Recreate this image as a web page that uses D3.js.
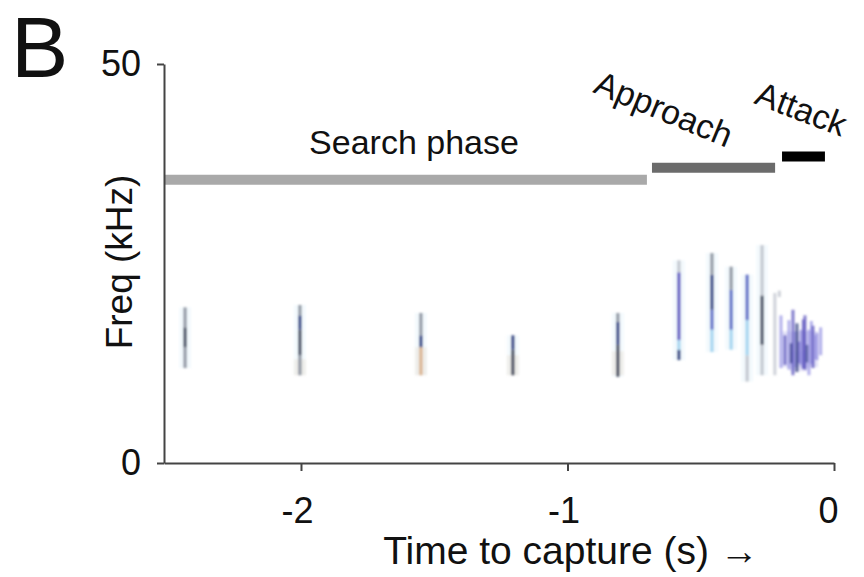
<!DOCTYPE html>
<html>
<head>
<meta charset="utf-8">
<script src="https://cdn.jsdelivr.net/npm/d3@7"></script>
<style>
  html, body { margin: 0; padding: 0; background: #fff; }
  svg { display: block; }
  text { font-family: "Liberation Sans", Arial, sans-serif; fill: #111; }
</style>
</head>
<body>
<svg id="chart" width="864" height="577"></svg>
<script>
// ---------------- DATA ----------------
const timeTicks = [-2, -1, 0];
const freqTicks = [0, 50];
const timeDomain = [-2.514, 0];
const freqDomain = [0, 50];

// behavioural phases (time span in s, level in kHz)
const phaseNames = ["Search phase", "Approach", "Attack"];
const phaseStart = [-2.514, -0.683, -0.195];
const phaseEnd   = [-0.702, -0.221, -0.034];
const phaseLevel = [35.5, 37.0, 38.4];

// echolocation calls: time (s) and spectrogram cells [fLow, fHigh, tone]
const callTime = [-2.435, -2.004, -1.550, -1.205, -0.811, -0.582, -0.458, -0.386, -0.326, -0.270];
const callCells = [
  [[11.9, 14.5, "g1"], [14.5, 17.0, "k"], [17.0, 19.5, "g1"]],
  [[11.0, 13.5, "g1"], [13.5, 16.7, "k"], [16.7, 18.5, "n"], [18.5, 19.8, "g1"]],
  [[11.0, 14.5, "t"], [14.5, 16.0, "n"], [16.0, 18.8, "g1"]],
  [[11.0, 14.2, "k"], [14.2, 16.0, "n"]],
  [[10.8, 14.8, "k"], [14.8, 17.7, "n"], [17.7, 18.8, "g1"]],
  [[12.9, 14.2, "n"], [14.2, 15.4, "c"], [15.4, 23.9, "p"], [23.9, 25.4, "g2"]],
  [[13.9, 16.7, "c"], [16.7, 19.2, "b"], [19.2, 23.6, "n"], [23.6, 26.3, "g1"]],
  [[14.2, 16.7, "c"], [16.7, 21.7, "b"], [21.7, 24.6, "g1"]],
  [[10.2, 13.5, "g2"], [13.5, 17.9, "c"], [17.9, 23.6, "b"]],
  [[11.0, 14.8, "g2"], [14.8, 21.0, "k"], [21.0, 27.3, "g2"]]
];
// faint halos behind the tan lower parts of search calls [time, fLow, fHigh]
const tanHalo = [[-2.004, 11.0, 13.0], [-1.550, 11.0, 14.5], [-1.205, 11.0, 13.5], [-0.811, 11.0, 14.0]];

// terminal buzz pulses: time, fLow, fHigh, tone
const buzzTime = [-0.222, -0.205, -0.199, -0.184, -0.169, -0.160, -0.154, -0.145, -0.139, -0.130, -0.124, -0.115, -0.109, -0.100, -0.094, -0.085, -0.079, -0.070, -0.064, -0.050];
const buzzLow  = [11.0, 20.8, 11.9, 12.3, 11.7, 12.5, 11.0, 12.0, 11.4, 12.5, 12.3, 11.8, 11.7, 12.6, 11.0, 12.4, 11.9, 13.0, 12.9, 13.5];
const buzzHigh = [21.3, 21.6, 18.5, 16.0, 17.9, 15.0, 19.2, 16.5, 17.5, 15.2, 16.7, 18.0, 18.5, 14.8, 16.7, 17.8, 17.2, 16.0, 16.3, 17.0];
const buzzTone = ["g2", "g2", "pl", "p", "pl", "n", "p", "pl", "n", "p", "pl", "p", "p", "n", "pl", "pl", "p", "pl", "pl", "pl"];
// dense core of the buzz: [tStart, tEnd, fLow, fHigh]
const buzzCore = [[-0.195, -0.060, 12.0, 16.5], [-0.165, -0.100, 11.5, 14.0]];

// ---------------- STYLE ----------------
const tones = {
  k: "#3f4558", n: "#2e3c7c", b: "#5566c2", c: "#9ed2ee", g1: "#8a909c", g2: "#bfc3cc",
  t: "#d9b08a", p: "#5a52bc", pl: "#9a96e4"
};
const phaseColors = ["#a9a9a9", "#6b6b6b", "#000000"];

// ---------------- CHART ----------------
const svg = d3.select("#chart");
const x = d3.scaleLinear().domain(timeDomain).range([164, 834]);
const y = d3.scaleLinear().domain(freqDomain).range([463, 64]);

const defs = svg.append("defs");
defs.append("filter").attr("id", "soft").attr("x", "-50%").attr("y", "-10%").attr("width", "200%").attr("height", "120%")
  .append("feGaussianBlur").attr("stdDeviation", 1.0);

// Panel letter
svg.append("text").attr("x", 11).attr("y", 77).attr("font-size", 86).text("B");

// spectrogram marks
const spec = svg.append("g").attr("filter", "url(#soft)");

spec.selectAll("rect.halo").data(tanHalo).join("rect")
  .attr("class", "halo")
  .attr("x", d => x(d[0]) - 6).attr("width", 12)
  .attr("y", d => y(d[2])).attr("height", d => y(d[1]) - y(d[2]))
  .attr("fill", tones.t).attr("opacity", 0.2);

callTime.forEach((t, i) => {
  const g = spec.append("g");
  const top = d3.max(callCells[i], c => c[1]);
  const bot = d3.min(callCells[i], c => c[0]);
  g.append("rect")
    .attr("x", x(t) - 6).attr("width", 12)
    .attr("y", y(top)).attr("height", y(bot) - y(top))
    .attr("fill", "#cfe8f5").attr("opacity", 0.22);
  g.selectAll("rect.cell").data(callCells[i]).join("rect")
    .attr("class", "cell")
    .attr("x", x(t) - 1.6).attr("width", 3.2)
    .attr("y", d => y(d[1])).attr("height", d => y(d[0]) - y(d[1]))
    .attr("fill", d => tones[d[2]]).attr("opacity", 0.9);
});

spec.selectAll("rect.core").data(buzzCore).join("rect")
  .attr("class", "core")
  .attr("x", d => x(d[0])).attr("width", d => x(d[1]) - x(d[0]))
  .attr("y", d => y(d[3])).attr("height", d => y(d[2]) - y(d[3]))
  .attr("fill", tones.pl).attr("opacity", 0.28);

const buzz = buzzTime.map((t, i) => ({t, lo: buzzLow[i], hi: buzzHigh[i], tone: buzzTone[i]}));
spec.selectAll("rect.buzz").data(buzz).join("rect")
  .attr("class", "buzz")
  .attr("x", d => x(d.t) - 1.5).attr("width", 3)
  .attr("y", d => y(d.hi)).attr("height", d => y(d.lo) - y(d.hi))
  .attr("fill", d => tones[d.tone]).attr("opacity", 0.75);

// phase bars
const phases = phaseNames.map((n, i) => ({n, s: phaseStart[i], e: phaseEnd[i], lv: phaseLevel[i], col: phaseColors[i]}));
svg.selectAll("line.phase").data(phases).join("line")
  .attr("class", "phase")
  .attr("x1", d => x(d.s)).attr("x2", d => x(d.e))
  .attr("y1", d => y(d.lv)).attr("y2", d => y(d.lv))
  .attr("stroke", d => d.col).attr("stroke-width", 10);

// phase labels
svg.append("text").attr("x", 414).attr("y", 154).attr("text-anchor", "middle").attr("font-size", 34).text(phaseNames[0]);
svg.append("text").attr("transform", "translate(592,92) rotate(22.5)").attr("font-size", 34).text(phaseNames[1]);
svg.append("text").attr("transform", "translate(753,103) rotate(21)").attr("font-size", 34).text(phaseNames[2]);

// axes
const xAxis = d3.axisBottom(x).tickValues(timeTicks).tickFormat(d => String(d)).tickSize(8).tickSizeOuter(0).tickPadding(26);
const yAxis = d3.axisLeft(y).tickValues(freqTicks).tickSize(7).tickSizeOuter(0).tickPadding(16);

const gx = svg.append("g").attr("transform", `translate(0,${y(0)})`).call(xAxis);
const gy = svg.append("g").attr("transform", `translate(${x(timeDomain[0])},0)`).call(yAxis);
[gx, gy].forEach(g => {
  g.select(".domain").attr("stroke", "#444").attr("stroke-width", 2);
  g.selectAll(".tick line").attr("stroke", "#444").attr("stroke-width", 2);
  g.selectAll(".tick text").attr("font-size", 36).attr("fill", "#111")
    .attr("font-family", "'Liberation Sans', Arial, sans-serif");
});
gx.selectAll(".tick text").attr("dx", d => d === 0 ? -6 : -4);

// axis titles
svg.append("text").attr("x", 571).attr("y", 564).attr("text-anchor", "middle").attr("font-size", 39).text("Time to capture (s) →");
svg.append("text").attr("transform", "translate(132,262) rotate(-90)").attr("text-anchor", "middle").attr("font-size", 37).text("Freq (kHz)");
</script>
</body>
</html>
